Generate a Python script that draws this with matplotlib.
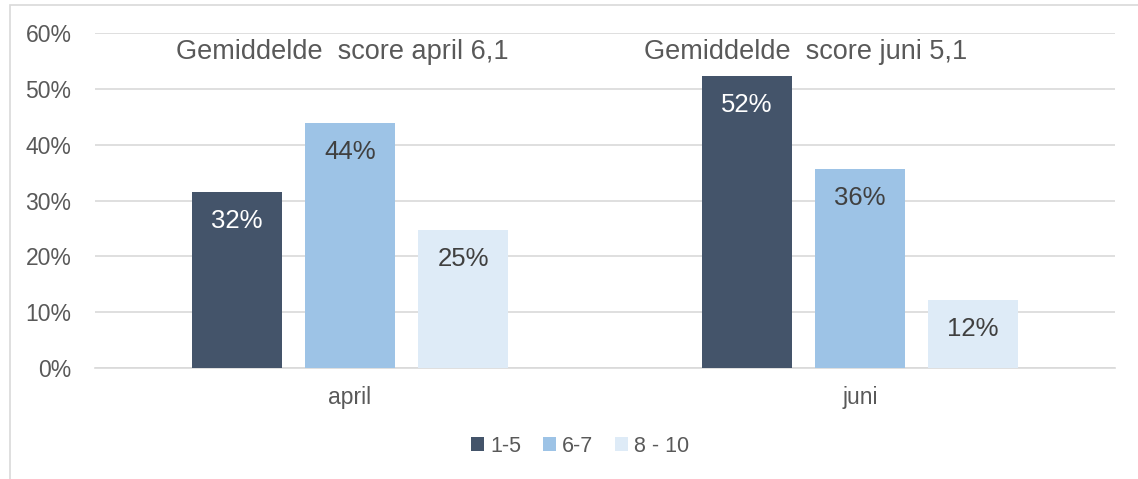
import matplotlib
matplotlib.use("Agg")
import matplotlib.pyplot as plt
from matplotlib.patches import Rectangle
import numpy as np

plt.rcParams['font.family'] = ['Liberation Sans', 'DejaVu Sans']

categories = ["april", "juni"]
series_names = ["1-5", "6-7", "8 - 10"]
values_15 = [0.316, 0.523]
values_67 = [0.438, 0.357]
values_810 = [0.247, 0.121]
annotations = ["Gemiddelde  score april 6,1", "Gemiddelde  score juni 5,1"]
yticks = [0, 0.1, 0.2, 0.3, 0.4, 0.5, 0.6]

colors = ["#44546A", "#9DC3E6", "#DEEBF7"]
label_colors = ["white", "#404040", "#404040"]

fig = plt.figure(figsize=(11.38, 4.79), dpi=100)
# outer frame
fig.patches.append(Rectangle((10/1138, -0.1), 1.2, 1 - 5/479 + 0.1, transform=fig.transFigure,
                             fill=False, edgecolor="#D9D9D9", linewidth=1.2))
ax = fig.add_axes([95/1138, 1 - 368/479, (1115 - 95)/1138, (368 - 33)/479])

x = np.arange(len(categories))
width = 0.175
step = 0.2216
series = [values_15, values_67, values_810]
for i, (vals, name) in enumerate(zip(series, series_names)):
    xs = x + (i - 1) * step
    bars = ax.bar(xs, vals, width=width, color=colors[i], label=name, zorder=3)
    for b, v in zip(bars, vals):
        ax.text(b.get_x() + b.get_width()/2, v - 0.052, f"{round(v*100):d}%",
                ha="center", va="center", fontsize=18.5, color=label_colors[i], zorder=4)

ax.text(x[0] - 0.016, 0.566, annotations[0], ha="center", va="center", fontsize=19.5, color="#595959")
ax.text(x[1] - 0.106, 0.566, annotations[1], ha="center", va="center", fontsize=19.5, color="#595959")

ax.set_ylim(0, 0.6)
ax.set_xlim(-0.5, 1.5)
ax.set_yticks(yticks)
ax.set_yticklabels([f"{int(round(t*100))}%" for t in yticks])
ax.set_xticks(x)
ax.set_xticklabels(categories)
ax.grid(axis="y", color="#D9D9D9", linewidth=1.2, zorder=0)
for s in ["top", "right", "left"]:
    ax.spines[s].set_visible(False)
ax.spines["bottom"].set_color("#D9D9D9")
ax.spines["bottom"].set_linewidth(1.2)
ax.tick_params(axis="both", length=0, labelsize=16.5, colors="#595959")
ax.tick_params(axis="y", pad=17)
ax.tick_params(axis="x", pad=13)

fig.legend(loc="center", bbox_to_anchor=(580/1138, 1 - 446/479), ncol=3, frameon=False,
           fontsize=15.5, labelcolor="#595959", handlelength=0.6, handleheight=0.6,
           handletextpad=0.3, columnspacing=1.0)

fig.savefig("out.png", dpi=100)
